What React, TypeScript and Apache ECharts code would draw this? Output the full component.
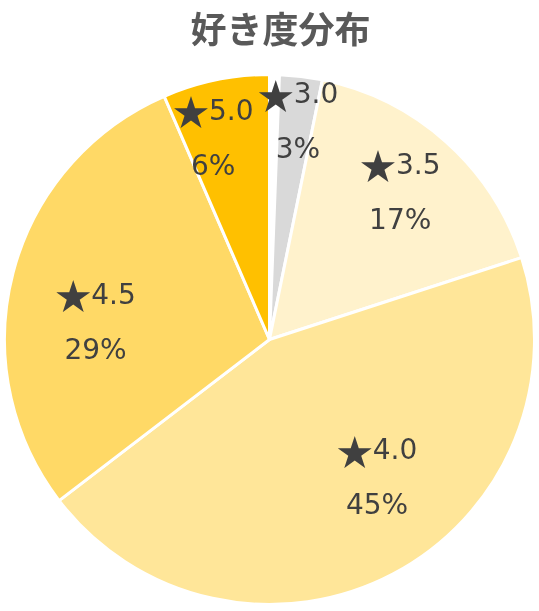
import React, { useEffect, useRef } from "react";
import * as echarts from "echarts";

const chartTitle = "好き度分布";
const categories = ["★3.0", "★3.5", "★4.0", "★4.5", "★5.0"];
// slice sizes (percent of the whole circle)
const sliceValues = [2.6, 16.8, 44.6, 28.9, 6.5];
// percentages as printed on the slices
const printedPercents = [3, 17, 45, 29, 6];
// empty wedge at 12 o'clock before the first slice
const gapValue = 0.6;
const colors = ["#D9D9D9", "#FFF2CC", "#FFE699", "#FFD966", "#FFC000"];
// label placement (fraction of radius, angle nudge in degrees) – Excel "best fit"
const labelRadiusFrac = [0.83, 0.745, 0.66, 0.66, 0.79];
const labelAngleNudge = [0.6, -0.3, -10.2, -8.8, -3.9];

export default function App() {
  const ref = useRef<HTMLDivElement>(null);
  useEffect(() => {
    const chart = echarts.init(ref.current!, null, { renderer: "svg" });
    const cx = 269.5;
    const cy = 339.5;
    const R = 265;
    const total = gapValue + sliceValues.reduce((a, b) => a + b, 0);
    const mids: number[] = [];
    let acc = gapValue;
    sliceValues.forEach((v) => {
      mids.push(((acc + v / 2) / total) * 360);
      acc += v;
    });
    const data = [
      {
        value: gapValue,
        name: "",
        itemStyle: { color: "#ffffff" },
        label: { show: false },
      },
      ...categories.map((c, i) => ({
        value: sliceValues[i],
        name: c,
        pct: printedPercents[i],
        itemStyle: { color: colors[i] },
      })),
    ];
    chart.setOption({
      animation: false,
      title: {
        text: chartTitle,
        left: 280.5,
        textAlign: "center",
        top: 9,
        padding: 0,
        textStyle: {
          fontFamily: "Noto Sans CJK JP",
          fontSize: 36,
          fontWeight: "bold",
          color: "#595959",
        },
      },
      series: [
        {
          type: "pie",
          center: [cx, cy],
          radius: R,
          startAngle: 90,
          clockwise: true,
          silent: true,
          itemStyle: { borderColor: "#ffffff", borderWidth: 3 },
          label: {
            show: true,
            position: "inside",
            formatter: (p: any) =>
              `{s|★}{t|${p.name.replace("★", "")}}\n{t|${p.data.pct}%}`,
            rich: {
              s: {
                fontFamily: "Noto Sans CJK JP",
                fontSize: 36,
                color: "#404040",
                lineHeight: 55,
              },
              t: {
                fontFamily: "DejaVu Sans",
                fontSize: 28,
                color: "#404040",
                lineHeight: 55,
              },
            },
          },
          labelLayout: (params: any) => {
            const i = params.dataIndex - 1;
            if (i < 0) return {};
            const a = ((mids[i] + labelAngleNudge[i]) * Math.PI) / 180;
            const r = labelRadiusFrac[i] * R;
            return {
              x: cx + r * Math.sin(a),
              y: cy - r * Math.cos(a),
              align: "center",
              verticalAlign: "middle",
            };
          },
          data,
        },
      ],
    });
    return () => chart.dispose();
  }, []);
  return (
    <div
      ref={ref}
      style={{ position: "fixed", left: 0, top: 0, width: 539, height: 611 }}
    />
  );
}
